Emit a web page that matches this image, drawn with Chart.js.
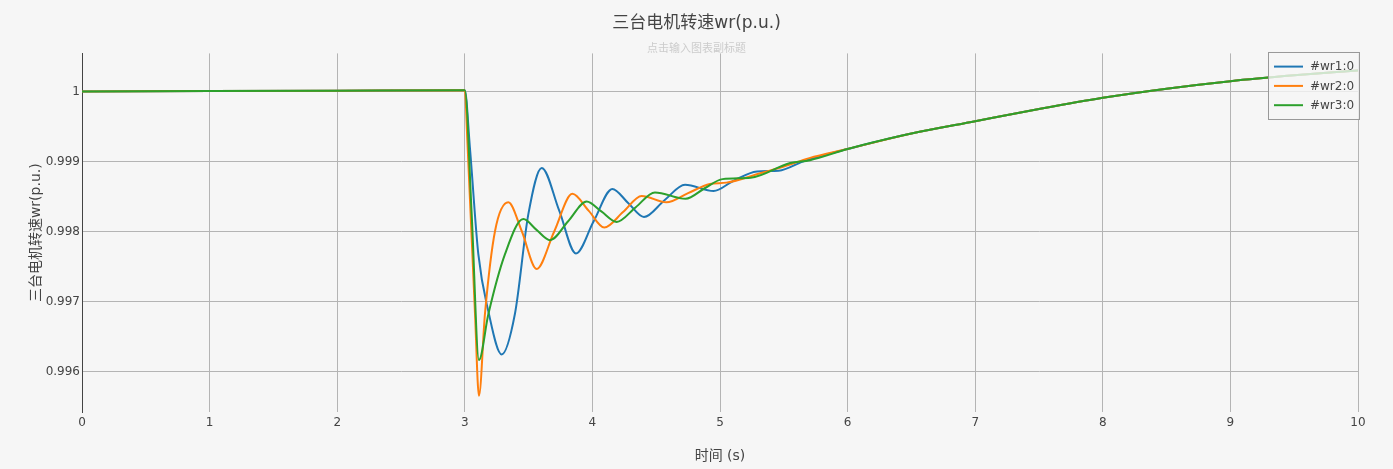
<!DOCTYPE html>
<html><head><meta charset="utf-8">
<script src="https://cdn.jsdelivr.net/npm/chart.js@4.4.1/dist/chart.umd.min.js"></script>
<style>html,body{margin:0;padding:0;background:#f6f6f6;}#wrap{width:1393px;height:469px;position:relative;}</style>
</head><body><div id="wrap"><canvas id="c"></canvas></div>
<script>
const chartTitle = '三台电机转速wr(p.u.)';
const chartSubtitle = '点击输入图表副标题';
const xAxisTitle = '时间 (s)';
const yAxisTitle = '三台电机转速wr(p.u.)';
const seriesLabels = ['#wr1:0', '#wr2:0', '#wr3:0'];
const seriesColors = ['#1f77b4', '#ff7f0e', '#2ca02c'];

const wr1Time   = [0, 1, 2, 3.0, 3.04, 3.106, 3.184, 3.289, 3.393, 3.498, 3.603, 3.74, 3.871, 4.01, 4.156, 4.28, 4.404, 4.565, 4.726, 4.95, 5.1, 5.29, 5.46, 5.65, 5.81, 6.0, 6.5, 7.0, 7.5, 8.0, 8.5, 9.0, 9.5, 10.0];
const wr1Values = [1.0, 1.000006, 1.000012, 1.000018, 0.99920, 0.99768, 0.99687, 0.99625, 0.99683, 0.99825, 0.99891, 0.99830, 0.99769, 0.99815, 0.99861, 0.99841, 0.99821, 0.99845, 0.99867, 0.99858, 0.99872, 0.99886, 0.99887, 0.99900, 0.99909, 0.99918, 0.99940, 0.999576, 0.99975, 0.99991, 1.00004, 1.000147, 1.00023, 1.00030];

const wr2Time   = [0, 1, 2, 3.0, 3.02, 3.08, 3.111, 3.158, 3.237, 3.341, 3.446, 3.563, 3.70, 3.843, 3.97, 4.093, 4.24, 4.386, 4.58, 4.75, 4.92, 5.05, 5.31, 5.5, 5.7, 6.0, 6.5, 7.0, 7.5, 8.0, 8.5, 9.0, 9.5, 10.0];
const wr2Values = [1.0, 1.000006, 1.000012, 1.000018, 0.99930, 0.99683, 0.99566, 0.99683, 0.99801, 0.99842, 0.99801, 0.99747, 0.99800, 0.99854, 0.99830, 0.99806, 0.99828, 0.99851, 0.99842, 0.99855, 0.99868, 0.99870, 0.99883, 0.99893, 0.99905, 0.99918, 0.99940, 0.999576, 0.99975, 0.99991, 1.00004, 1.000147, 1.00023, 1.00030];

const wr3Time   = [0, 1, 2, 3.0, 3.054, 3.111, 3.184, 3.315, 3.459, 3.56, 3.668, 3.81, 3.955, 4.07, 4.19, 4.34, 4.49, 4.73, 4.88, 5.02, 5.24, 5.55, 5.705, 6.0, 6.5, 7.0, 7.5, 8.0, 8.5, 9.0, 9.5, 10.0];
const wr3Values = [1.0, 1.000006, 1.000012, 1.000018, 0.99825, 0.99617, 0.99682, 0.99768, 0.99818, 0.99803, 0.99788, 0.99815, 0.99843, 0.99829, 0.99814, 0.99835, 0.99856, 0.99847, 0.99862, 0.99875, 0.99877, 0.99898, 0.99902, 0.99918, 0.99940, 0.999576, 0.99975, 0.99991, 1.00004, 1.000147, 1.00023, 1.00030];

const xTickValues = [0, 1, 2, 3, 4, 5, 6, 7, 8, 9, 10];
const xTickLabels = ['0', '1', '2', '3', '4', '5', '6', '7', '8', '9', '10'];
const yTickValues = [0.996, 0.997, 0.998, 0.999, 1.0];
const yTickLabels = ['0.996', '0.997', '0.998', '0.999', '1'];
const xRange = [0, 10];
const yRange = [0.995429, 1.000543];

const times = [wr1Time, wr2Time, wr3Time];
const values = [wr1Values, wr2Values, wr3Values];
const drawOrder = [2, 1, 0];

const FONT = '"DejaVu Sans", "Noto Sans CJK SC", sans-serif';

const boxLegend = {
  id: 'boxLegend',
  afterDraw(chart) {
    const ctx = chart.ctx, a = chart.chartArea;
    const w = 91, h = 67;
    const x0 = a.right - 90, y0 = a.top - 1.5;
    ctx.save();
    ctx.fillStyle = 'rgba(246,246,246,0.8)';
    ctx.fillRect(x0, y0, w, h);
    ctx.strokeStyle = '#999999';
    ctx.lineWidth = 1;
    ctx.strokeRect(Math.round(x0) + 0.5, Math.round(y0) + 0.5, w, h);
    ctx.font = '12px ' + FONT;
    ctx.textBaseline = 'middle';
    ctx.textAlign = 'left';
    chart.data.datasets.forEach((ds, i) => {
      const y = y0 + 14.7 + i * 19.3;
      ctx.strokeStyle = ds.borderColor;
      ctx.lineWidth = 2;
      ctx.beginPath();
      ctx.moveTo(x0 + 6, y);
      ctx.lineTo(x0 + 35, y);
      ctx.stroke();
      ctx.fillStyle = '#444444';
      ctx.fillText(ds.label, x0 + 42, y + 0.5);
    });
    ctx.restore();
  }
};

new Chart(document.getElementById('c'), {
  type: 'line',
  data: {
    datasets: seriesLabels.map((lab, i) => ({
      label: lab,
      data: times[i].map((t, k) => ({x: t, y: values[i][k]})),
      borderColor: seriesColors[i],
      backgroundColor: seriesColors[i],
      borderWidth: 2,
      pointRadius: 0,
      fill: false,
      cubicInterpolationMode: 'monotone',
      order: drawOrder[i]
    }))
  },
  options: {
    responsive: true,
    maintainAspectRatio: false,
    animation: false,
    layout: {padding: 0},
    plugins: {
      legend: {display: false},
      tooltip: {enabled: false},
      title: {display: true, text: chartTitle, color: '#444444',
        font: {family: FONT, size: 17, weight: 'normal'}, padding: {top: 13, bottom: 0}},
      subtitle: {display: true, text: chartSubtitle, color: '#cccccc',
        font: {family: FONT, size: 11, weight: 'normal', lineHeight: 1.0}, padding: {top: 10, bottom: -1}}
    },
    scales: {
      x: {
        type: 'linear', min: xRange[0], max: xRange[1],
        afterBuildTicks: s => { s.ticks = xTickValues.map(v => ({value: v})); },
        afterFit: s => { s.height = 57; },
        ticks: {callback: (v) => xTickLabels[xTickValues.indexOf(v)], color: '#444444',
          font: {family: FONT, size: 12}, padding: 4, maxRotation: 0, autoSkip: false},
        grid: {color: '#b4b4b4', lineWidth: 1, drawTicks: false},
        border: {display: false},
        title: {display: true, text: xAxisTitle, color: '#444444',
          font: {family: FONT, size: 14}, padding: {top: 0, bottom: 4.7}}
      },
      y: {
        type: 'linear', min: yRange[0], max: yRange[1],
        afterBuildTicks: s => { s.ticks = yTickValues.map(v => ({value: v})); },
        afterFit: s => { s.width = 82; },
        ticks: {callback: (v) => { const i = yTickValues.findIndex(t => Math.abs(t - v) < 1e-9); return i >= 0 ? yTickLabels[i] : ''; },
          color: '#444444', font: {family: FONT, size: 12}, padding: 2, autoSkip: false},
        grid: {color: '#b4b4b4', lineWidth: 1, drawTicks: false},
        border: {display: true, color: '#444444', width: 1},
        title: {display: true, text: yAxisTitle, color: '#444444',
          font: {family: FONT, size: 14}, padding: {top: 28, bottom: 0}}
      },
      yRightSpace: {
        type: 'linear', position: 'right', display: true,
        afterFit: s => { s.width = 35; },
        ticks: {display: false},
        grid: {display: false, drawTicks: false},
        border: {display: false},
        title: {display: false}
      }
    }
  },
  plugins: [boxLegend]
});
</script>
</body></html>
